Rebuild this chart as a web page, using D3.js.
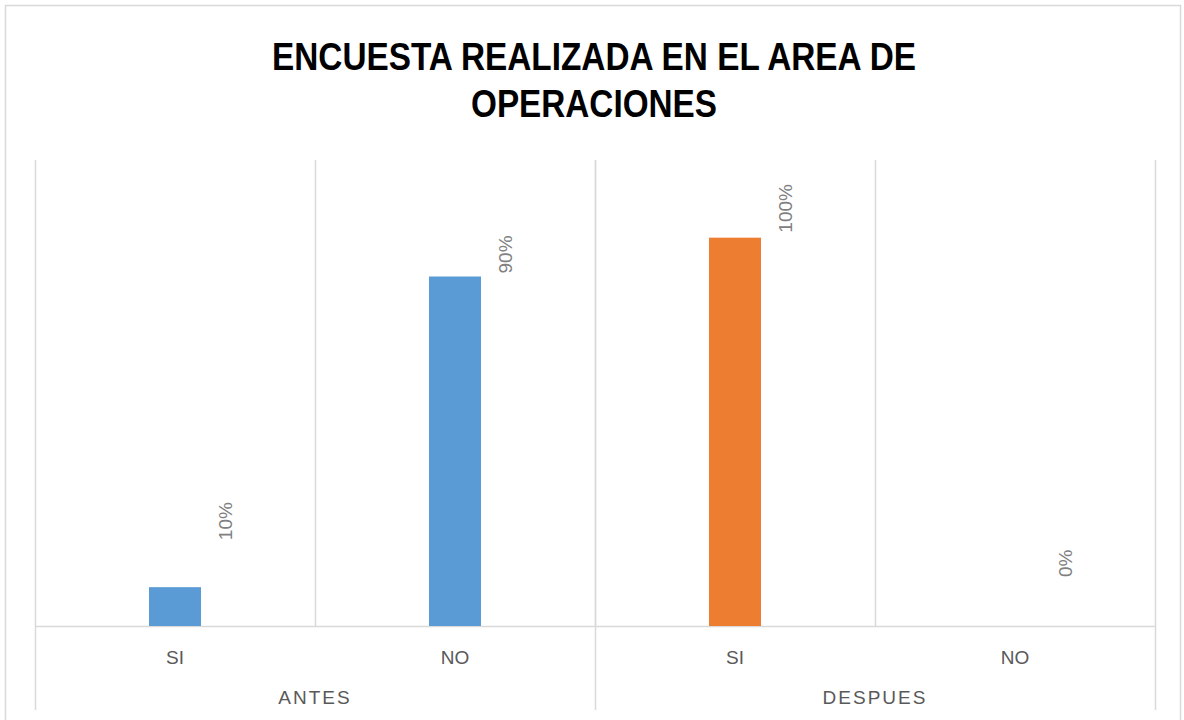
<!DOCTYPE html>
<html>
<head>
<meta charset="utf-8">
<script src="https://cdn.jsdelivr.net/npm/d3@7"></script>
<style>
  html, body { margin: 0; padding: 0; background: #fff; }
  svg { display: block; }
</style>
</head>
<body>
<svg id="chart" width="1184" height="720"></svg>
<script>
// Survey answers before / after, as shares of respondents
const groups = ["ANTES", "DESPUES"];
const answers = ["SI", "NO"];
const antesValues = [0.10, 0.90];
const despuesValues = [1.00, 0.00];
const valueLabels = ["10%", "90%", "100%", "0%"];
const titleLines = ["ENCUESTA REALIZADA EN EL AREA DE", "OPERACIONES"];

const barColors = { ANTES: "#5b9bd5", DESPUES: "#ed7d31" };
// how far each value label sits above its bar end
const labelLift = [47, 3, 5, 49];
// condensed title line widths
const titleWidths = [644, 246];

const rows = [];
groups.forEach((g, gi) => {
  const vals = gi === 0 ? antesValues : despuesValues;
  answers.forEach((a, ai) => rows.push({ group: g, answer: a, value: vals[ai], key: g + "|" + a }));
});
rows.forEach((r, i) => r.label = valueLabels[i]);

const svg = d3.select("#chart");
const plot = { left: 35, right: 1155, top: 160, bottom: 626 };
const grid = "#d9d9d9";

// chart frame
svg.append("rect")
  .attr("x", 5.5).attr("y", 5.5)
  .attr("width", 1175).attr("height", 720)
  .attr("fill", "#fff").attr("stroke", grid).attr("stroke-width", 1.5);

// title
svg.append("g").selectAll("text").data(titleLines).join("text")
  .attr("x", 594).attr("y", (d, i) => 70 + i * 47)
  .attr("text-anchor", "middle")
  .attr("font-family", "'Liberation Sans', Arial, sans-serif")
  .attr("font-weight", "bold")
  .attr("font-size", 39)
  .attr("fill", "#000")
  .attr("textLength", (d, i) => titleWidths[i])
  .attr("lengthAdjust", "spacingAndGlyphs")
  .text(d => d);

const x = d3.scaleBand()
  .domain(rows.map(r => r.key))
  .range([plot.left, plot.right])
  .paddingInner(0).paddingOuter(0);

const xGroup = d3.scaleBand()
  .domain(groups)
  .range([plot.left, plot.right]);

const y = d3.scaleLinear().domain([0, 1.2]).range([plot.bottom, plot.top]);

// category separators inside the plot
svg.append("g").selectAll("line").data(rows.slice(1)).join("line")
  .attr("x1", d => Math.round(x(d.key)) + 0.5)
  .attr("x2", d => Math.round(x(d.key)) + 0.5)
  .attr("y1", plot.top).attr("y2", plot.bottom)
  .attr("stroke", grid).attr("stroke-width", 1.5);

// group separators spanning plot and label rows
const groupEdges = groups.map(g => xGroup(g)).concat([plot.right]);
svg.append("g").selectAll("line").data(groupEdges).join("line")
  .attr("x1", d => Math.round(d) + 0.5).attr("x2", d => Math.round(d) + 0.5)
  .attr("y1", plot.top).attr("y2", 710)
  .attr("stroke", grid).attr("stroke-width", 1.5);

// baseline
svg.append("line")
  .attr("x1", plot.left).attr("x2", plot.right)
  .attr("y1", plot.bottom + 0.5).attr("y2", plot.bottom + 0.5)
  .attr("stroke", grid).attr("stroke-width", 1.5);

// bars
const barW = 52;
svg.append("g").selectAll("rect").data(rows).join("rect")
  .attr("x", d => x(d.key) + x.bandwidth() / 2 - barW / 2)
  .attr("y", d => y(d.value))
  .attr("width", barW)
  .attr("height", d => y(0) - y(d.value))
  .attr("fill", d => barColors[d.group]);

// value labels, rotated
svg.append("g").selectAll("text").data(rows).join("text")
  .attr("transform", (d, i) => {
    const cx = x(d.key) + x.bandwidth() / 2 + 50 + 7;
    const cy = y(d.value) - labelLift[i];
    return `translate(${cx},${cy}) rotate(-90)`;
  })
  .attr("text-anchor", "start")
  .attr("font-family", "'Liberation Sans', Arial, sans-serif")
  .attr("font-size", 19)
  .attr("fill", "#808080")
  .text(d => d.label);

// answer labels
svg.append("g").selectAll("text").data(rows).join("text")
  .attr("x", d => x(d.key) + x.bandwidth() / 2)
  .attr("y", 664)
  .attr("text-anchor", "middle")
  .attr("font-family", "'Liberation Sans', Arial, sans-serif")
  .attr("font-size", 19)
  .attr("fill", "#595959")
  .text(d => d.answer);

// group labels
svg.append("g").selectAll("text").data(groups).join("text")
  .attr("x", d => xGroup(d) + xGroup.bandwidth() / 2)
  .attr("y", 704)
  .attr("text-anchor", "middle")
  .attr("font-family", "'Liberation Sans', Arial, sans-serif")
  .attr("font-size", 19)
  .attr("letter-spacing", 2)
  .attr("fill", "#595959")
  .text(d => d);
</script>
</body>
</html>
